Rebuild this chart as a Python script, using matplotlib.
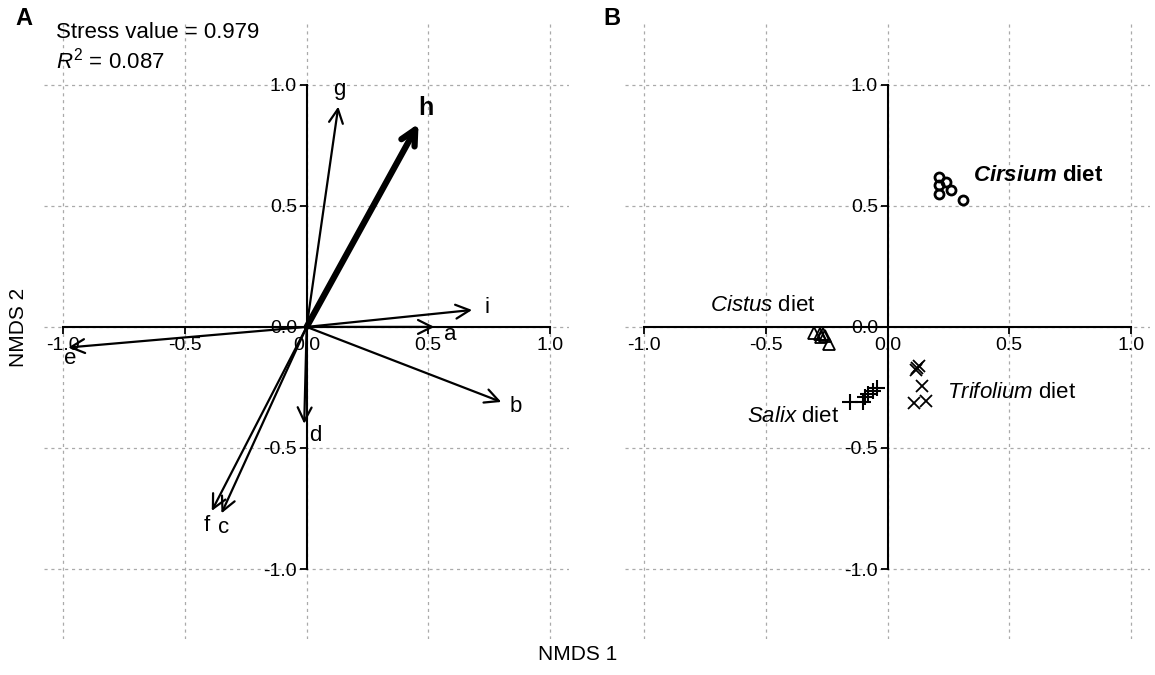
import matplotlib
matplotlib.use('Agg')
import matplotlib.pyplot as plt

plt.rcParams['font.family'] = 'Liberation Sans'
plt.rcParams['mathtext.fontset'] = 'custom'
plt.rcParams['mathtext.rm'] = 'Liberation Sans'
plt.rcParams['mathtext.it'] = 'Liberation Sans:italic'
plt.rcParams['mathtext.bf'] = 'Liberation Sans:bold'
plt.rcParams['mathtext.bfit'] = 'Liberation Sans:italic:bold'

# panel A: fitted vectors
vec_names = ['a', 'b', 'c', 'd', 'e', 'f', 'g', 'h', 'i']
vec_x = [0.525, 0.80, -0.35, -0.01, -0.98, -0.39, 0.13, 0.46, 0.68]
vec_y = [0.0, -0.31, -0.77, -0.40, -0.085, -0.76, 0.91, 0.84, 0.07]
lab_x = [0.59, 0.86, -0.34, 0.035, -0.97, -0.41, 0.135, 0.49, 0.74]
lab_y = [-0.03, -0.33, -0.83, -0.45, -0.13, -0.82, 0.98, 0.905, 0.08]

# panel B: site scores per diet
cirsium_x = [0.21, 0.21, 0.24, 0.21, 0.26, 0.31]
cirsium_y = [0.62, 0.585, 0.60, 0.55, 0.565, 0.525]
cistus_x = [-0.304, -0.276, -0.265, -0.259, -0.272, -0.241]
cistus_y = [-0.025, -0.029, -0.029, -0.036, -0.043, -0.07]
salix_x = [-0.156, -0.101, -0.094, -0.08, -0.06, -0.044]
salix_y = [-0.311, -0.311, -0.29, -0.277, -0.263, -0.253]
trifolium_x = [0.129, 0.115, 0.12, 0.142, 0.107, 0.156]
trifolium_y = [-0.16, -0.18, -0.17, -0.245, -0.314, -0.305]

ticks = [-1.0, -0.5, 0.0, 0.5, 1.0]
tick_labels = ['-1.0', '-0.5', '0.0', '0.5', '1.0']

fig = plt.figure(figsize=(11.55, 6.75), dpi=100)
axA = fig.add_axes([0.038, 0.053, 0.455, 0.911])
axB = fig.add_axes([0.541, 0.053, 0.455, 0.911])

for ax in (axA, axB):
    ax.set_xlim(-1.08, 1.08)
    ax.set_ylim(-1.29, 1.25)
    for v in ticks:
        ax.axvline(v, color='#aaaaaa', lw=0.9, ls=(0, (2.5, 3)), zorder=0)
        ax.axhline(v, color='#aaaaaa', lw=0.9, ls=(0, (2.5, 3)), zorder=0)
    for s in ('top', 'right'):
        ax.spines[s].set_visible(False)
    for s in ('left', 'bottom'):
        ax.spines[s].set_position('zero')
        ax.spines[s].set_bounds(-1, 1)
        ax.spines[s].set_linewidth(1.5)
    ax.set_xticks(ticks)
    ax.set_xticklabels(tick_labels)
    ax.set_yticks(ticks)
    ax.set_yticklabels(tick_labels)
    ax.tick_params(direction='out', length=5, width=1.3, labelsize=14, pad=2)

# vectors
for n, x, y, lx, ly in zip(vec_names, vec_x, vec_y, lab_x, lab_y):
    bold = n == 'h'
    axA.annotate('', xy=(x, y), xytext=(0, 0),
                 arrowprops=dict(arrowstyle='->', lw=4.5 if bold else 1.6,
                                 mutation_scale=27 if bold else 25,
                                 shrinkA=0, shrinkB=0, color='black'))
    axA.text(lx, ly, n, fontsize=18 if bold else 16,
             fontweight='bold' if bold else 'normal', ha='center', va='center')

axA.text(-1.03, 1.215, 'Stress value = 0.979', fontsize=16, va='center')
axA.text(-1.03, 1.10, r'$R^2$ = 0.087', fontsize=16, va='center')

# diets
axB.plot(cirsium_x, cirsium_y, 'o', ms=6.5, mfc='none', mec='black', mew=2)
axB.plot(cistus_x, cistus_y, '^', ms=9, mfc='none', mec='black', mew=1.3)
axB.plot(salix_x, salix_y, '+', ms=11, mec='black', mew=1.5)
axB.plot(trifolium_x, trifolium_y, 'x', ms=8, mec='black', mew=1.3)

axB.text(0.35, 0.625, r'$\mathbfit{Cirsium}$ diet', fontsize=16,
         fontweight='bold', va='center')
axB.text(-0.73, 0.087, r'$\it{Cistus}$ diet', fontsize=16, va='center')
axB.text(-0.58, -0.37, r'$\it{Salix}$ diet', fontsize=16, va='center')
axB.text(0.245, -0.27, r'$\it{Trifolium}$ diet', fontsize=16, va='center')

fig.text(0.013, 0.973, 'A', fontsize=17, fontweight='bold', va='center')
fig.text(0.522, 0.973, 'B', fontsize=17, fontweight='bold', va='center')
fig.text(0.016, 0.515, 'NMDS 2', fontsize=15, rotation=90, ha='center', va='center')
fig.text(0.5, 0.03, 'NMDS 1', fontsize=15, ha='center', va='center')

fig.savefig('out.png', dpi=100)
